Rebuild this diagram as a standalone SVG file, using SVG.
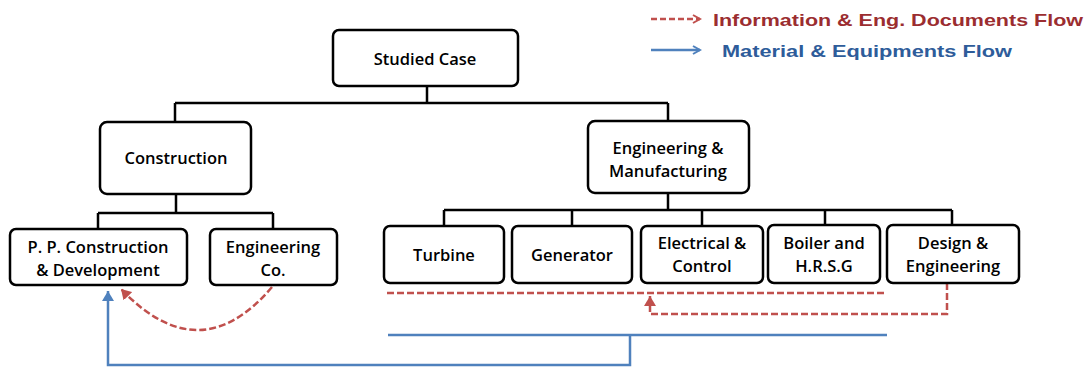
<svg xmlns="http://www.w3.org/2000/svg" width="1089" height="367" viewBox="0 0 1089 367">
<style>
.box{fill:#fff;stroke:#000;stroke-width:2.5}
.t{font-family:"Open Sans","Liberation Sans",Arial,sans-serif;font-size:16.5px;font-weight:600;fill:#000;text-anchor:middle;dominant-baseline:central}
.tree{fill:none;stroke:#000;stroke-width:2.5}
.red{fill:none;stroke:#C0504D;stroke-width:2.5;stroke-dasharray:7,3}
.blue{fill:none;stroke:#4F81BD;stroke-width:2.5}
.leg{font-family:"Liberation Sans",Arial,sans-serif;font-size:17px;font-weight:bold;dominant-baseline:central}
</style>
<defs>
<marker id="ar" markerWidth="10" markerHeight="10" refX="8" refY="5" orient="auto" markerUnits="userSpaceOnUse">
<path d="M1,1 L8,5 L1,9" fill="none" stroke="#C0504D" stroke-width="2"/>
</marker>
<marker id="ab" markerWidth="10" markerHeight="10" refX="8" refY="5" orient="auto" markerUnits="userSpaceOnUse">
<path d="M1,1 L8,5 L1,9" fill="none" stroke="#4F81BD" stroke-width="2"/>
</marker>
<marker id="arf" markerWidth="12" markerHeight="12" refX="10" refY="6" orient="auto" markerUnits="userSpaceOnUse">
<path d="M0,0 L10,6 L0,12 Z" fill="#C0504D"/>
</marker>
<marker id="abf" markerWidth="12" markerHeight="12" refX="10" refY="6" orient="auto" markerUnits="userSpaceOnUse">
<path d="M0,0 L10,6 L0,12 Z" fill="#4F81BD"/>
</marker>
</defs>
<g id="connectors">
<path class="tree" d="M427,86 V103 M175,103 H668 M175,103 V122 M668,103 V121"/>
<path class="tree" d="M176,194 V213 M98,213 H273 M98,213 V229 M273,213 V229"/>
<path class="tree" d="M668,193 V210 M444,210 H952 M444,210 V226 M572,210 V226 M702,210 V226 M825,210 V225 M952,210 V225"/>
<path class="red" d="M387,293 H884"/>
<path class="red" d="M947,283 V314 H650 V296" marker-end="url(#arf)"/>
<path class="red" d="M272,287 Q200,372 121,289" marker-end="url(#arf)"/>
<path class="blue" d="M388,335 H887 M630,335 V365 H108 V291" marker-end="url(#abf)"/>
</g>
<g id="legend">
<path class="red" d="M651,19 H700" marker-end="url(#ar)" style="stroke-dasharray:6,3"/>
<text class="leg" x="713" y="20" fill="#9B2D30" textLength="370" lengthAdjust="spacingAndGlyphs">Information &amp; Eng. Documents Flow</text>
<path class="blue" d="M651,50 H700" marker-end="url(#ab)"/>
<text class="leg" x="722" y="51" fill="#2E5C9A" textLength="290" lengthAdjust="spacingAndGlyphs">Material &amp; Equipments Flow</text>
</g>
<g id="studied"><rect class="box" x="333" y="30" width="185" height="56" rx="6"/><text class="t" x="425" y="58">Studied Case</text></g>
<g id="construction"><rect class="box" x="100" y="122" width="151" height="72" rx="7"/><text class="t" x="176" y="157">Construction</text></g>
<g id="engman"><rect class="box" x="588" y="121" width="161" height="72" rx="7"/><text class="t" x="668" y="147">Engineering &amp;</text><text class="t" x="668" y="170">Manufacturing</text></g>
<g id="ppcd"><rect class="box" x="10" y="229" width="177" height="56" rx="6"/><text class="t" x="98" y="246">P. P. Construction</text><text class="t" x="98" y="269">&amp; Development</text></g>
<g id="engco"><rect class="box" x="210" y="229" width="127" height="56" rx="6"/><text class="t" x="273" y="246">Engineering</text><text class="t" x="273" y="269">Co.</text></g>
<g id="turbine"><rect class="box" x="384" y="226" width="120" height="57" rx="6"/><text class="t" x="444" y="254">Turbine</text></g>
<g id="generator"><rect class="box" x="512" y="226" width="120" height="57" rx="6"/><text class="t" x="572" y="254">Generator</text></g>
<g id="electrical"><rect class="box" x="641" y="226" width="122" height="57" rx="6"/><text class="t" x="702" y="242">Electrical &amp;</text><text class="t" x="702" y="265">Control</text></g>
<g id="boiler"><rect class="box" x="768" y="225" width="112" height="58" rx="6"/><text class="t" x="824" y="242">Boiler and</text><text class="t" x="824" y="265">H.R.S.G</text></g>
<g id="design"><rect class="box" x="887" y="225" width="132" height="58" rx="6"/><text class="t" x="953" y="242">Design &amp;</text><text class="t" x="953" y="265">Engineering</text></g>
</svg>
